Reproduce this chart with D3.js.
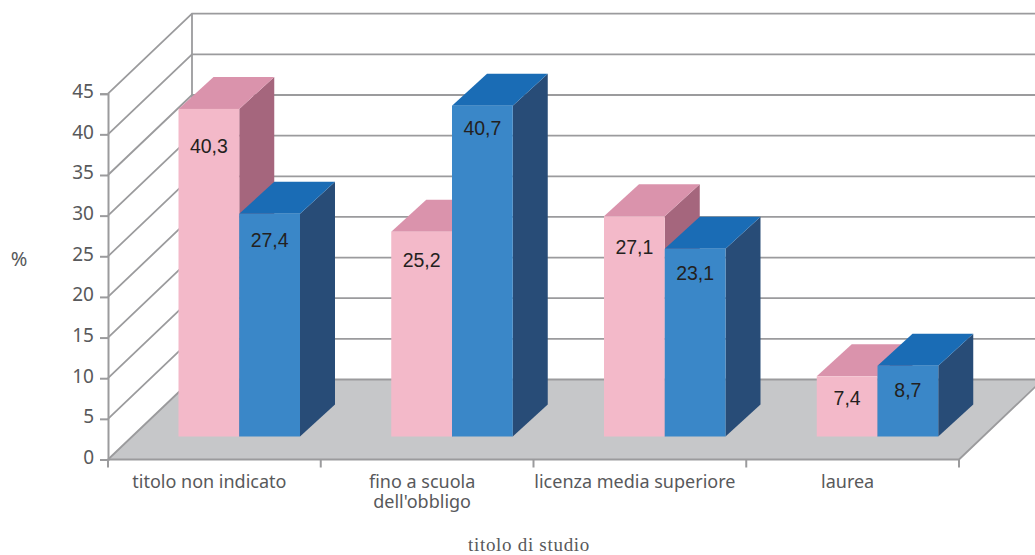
<!DOCTYPE html>
<html><head><meta charset="utf-8">
<script src="https://cdn.jsdelivr.net/npm/d3@7"></script>
<style>html,body{margin:0;background:#fff}svg{display:block}</style></head>
<body><svg id="c" width="1035" height="555"></svg>
<script>
const categories=[["titolo non indicato"],["fino a scuola","dell'obbligo"],["licenza media superiore"],["laurea"]];
const seriesNames=["a","b"];
const pinkValues=[40.3,25.2,27.1,7.4];
const blueValues=[27.4,40.7,23.1,8.7];
const yTicks=[0,5,10,15,20,25,30,35,40,45];
const axisLabelY="%";
const axisLabelX="titolo di studio";

const W=1035,H=555;
const svg=d3.select("#c").attr("viewBox",[0,0,W,H]);
const plotL=108,plotR=959,plotB=459.5,plotT=93.7;
const wallDx=84,wallDy=-80,barDx=35,barDy=-32,floorInset=23;
const y=d3.scaleLinear().domain([0,45]).range([plotB,plotT]);
const x=d3.scaleBand().domain(d3.range(categories.length)).range([plotL,plotR]);
const inner=d3.scaleBand().domain(seriesNames).range([70.5,192]);
const gridC="#9b9b9d",textC="#58595b",valC="#231f20";
const sans="'Noto Sans',sans-serif";
const line=d3.line();

// floor
svg.append("path").attr("fill","#c6c7c9")
 .attr("d",line([[plotL,plotB],[plotR,plotB],[plotR+wallDx,plotB+wallDy],[plotL+wallDx,plotB+wallDy]])+"Z");

// wall grid
const g=svg.append("g").attr("fill","none").attr("stroke",gridC).attr("stroke-width",1.8);
yTicks.forEach(t=>{
  g.append("path").attr("d",line([[plotL,y(t)],[plotL+wallDx,y(t)+wallDy],[W,y(t)+wallDy]]));
});
g.append("path").attr("d",line([[plotL+wallDx,y(0)+wallDy],[plotL+wallDx,y(45)+wallDy]]));
g.append("path").attr("d",line([[plotL,plotB],[plotR,plotB],[plotR+wallDx,plotB+wallDy]]));

// y axis
const ya=svg.append("g").attr("transform",`translate(${plotL},0)`)
 .call(d3.axisLeft(y).tickValues(yTicks).tickSize(8).tickPadding(6));
ya.selectAll("path,line").attr("stroke",gridC).attr("stroke-width",2);
ya.selectAll("text").attr("fill",textC).attr("font-family",sans).attr("font-size",19).attr("dy","0.2em");

// x ticks
const xt=d3.range(categories.length+1).map(i=>plotL+i*x.step());
svg.append("g").selectAll("line").data(xt).join("line")
 .attr("x1",d=>d).attr("x2",d=>d).attr("y1",plotB).attr("y2",plotB+8)
 .attr("stroke",gridC).attr("stroke-width",2);

// bars
const styles={a:{front:"#f3b9c9",top:"#da93ac",side:"#a5667d"},b:{front:"#3a87c8",top:"#1a6cb5",side:"#284c77"}};
const labelDrop={a:[38,29,31,22],b:[27,23,25,25]};
const base=y(0)-floorInset;
const vals={a:pinkValues,b:blueValues};
const bars=[];
categories.forEach((c,i)=>seriesNames.forEach(s=>bars.push({i,s,v:vals[s][i]})));
const bg=svg.append("g").selectAll("g").data(bars).join("g");
bg.each(function(d){
  const sel=d3.select(this),x0=x(d.i)+inner(d.s),x1=x0+inner.bandwidth(),yt=y(d.v)-floorInset,st=styles[d.s];
  sel.append("path").attr("fill",st.side).attr("d",line([[x1,yt],[x1+barDx,yt+barDy],[x1+barDx,base+barDy],[x1,base]])+"Z");
  sel.append("path").attr("fill",st.top).attr("d",line([[x0,yt],[x0+barDx,yt+barDy],[x1+barDx,yt+barDy],[x1,yt]])+"Z");
  sel.append("rect").attr("fill",st.front).attr("x",x0).attr("y",yt).attr("width",x1-x0).attr("height",base-yt);
});
bg.append("text").attr("text-anchor","middle").attr("fill",valC)
 .attr("font-family","'Liberation Sans',Arial,sans-serif").attr("font-size",19.5)
 .attr("x",d=>x(d.i)+inner(d.s)+inner.bandwidth()/2)
 .attr("y",d=>y(d.v)-floorInset+labelDrop[d.s][d.i]+6.5)
 .text(d=>String(d.v).replace(".",","));

// category labels
const cl=svg.append("g").attr("text-anchor","middle").attr("fill",textC).attr("font-family",sans).attr("font-size",18);
categories.forEach((lines,i)=>lines.forEach((t,j)=>{
  cl.append("text").attr("x",x(i)+x.bandwidth()/2-5).attr("y",487.5+j*20).text(t);
}));

svg.append("text").attr("x",19).attr("y",265.5).attr("text-anchor","middle").attr("fill",textC)
 .attr("font-family",sans).attr("font-size",20).text(axisLabelY);
svg.append("text").attr("x",529).attr("y",551).attr("text-anchor","middle").attr("fill",textC)
 .attr("font-family","'Liberation Serif',serif").attr("font-size",19).attr("letter-spacing","0.7").text(axisLabelX);
</script></body></html>
